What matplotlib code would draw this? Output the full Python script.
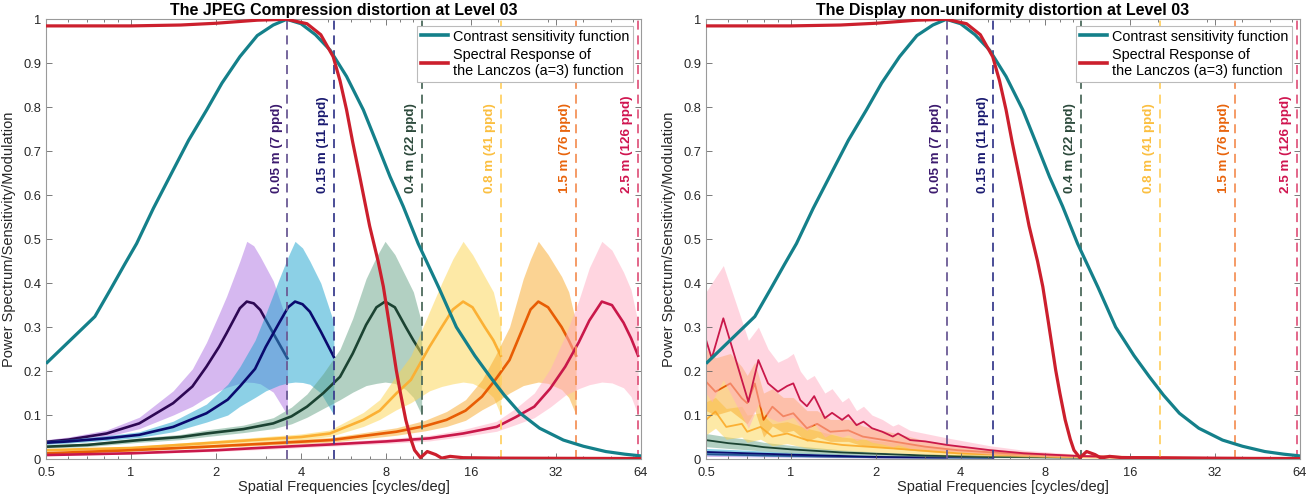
import matplotlib
matplotlib.use('Agg')
import matplotlib.pyplot as plt
from matplotlib.ticker import FixedLocator, FixedFormatter, NullFormatter
from matplotlib.lines import Line2D

plt.rcParams['font.family'] = ['Liberation Sans', 'DejaVu Sans']

# ---------------- data ----------------
titles = ["The JPEG Compression distortion at Level 03",
          "The Display non-uniformity distortion at Level 03"]
xlabel = "Spatial Frequencies [cycles/deg]"
ylabel = "Power Spectrum/Sensitivity/Modulation"
xticks = [0.5, 1, 2, 4, 8, 16, 32, 64]
xticklabels = ["0.5", "1", "2", "4", "8", "16", "32", "64"]
yticks = [0, 0.1, 0.2, 0.3, 0.4, 0.5, 0.6, 0.7, 0.8, 0.9, 1]
yticklabels = ["0", "0.1", "0.2", "0.3", "0.4", "0.5", "0.6", "0.7", "0.8", "0.9", "1"]

dist_labels = ["0.05 m (7 ppd)", "0.15 m (11 ppd)", "0.4 m (22 ppd)",
               "0.8 m (41 ppd)", "1.5 m (76 ppd)", "2.5 m (126 ppd)"]
cutoffs = [3.58, 5.23, 10.7, 20.4, 37.7, 62.5]

# Contrast sensitivity function
csf_f = [0.5, 0.745, 0.85, 0.95, 1.047, 1.2, 1.41, 1.6, 1.854, 2.1, 2.43, 2.8, 3.19, 3.56,
         4.0, 4.5, 5.07, 5.8, 6.65, 7.4, 8.27, 9.2, 10.4, 12.3, 14.2, 16.5, 18.7, 21.0,
         23.9, 28, 34, 40, 48, 56, 64]
csf_v = [0.217, 0.324, 0.388, 0.443, 0.49, 0.57, 0.657, 0.725, 0.794, 0.855, 0.915, 0.963,
         0.987, 1.0, 0.99, 0.965, 0.93, 0.87, 0.794, 0.72, 0.642, 0.575, 0.49, 0.39, 0.30,
         0.235, 0.187, 0.145, 0.104, 0.07, 0.043, 0.029, 0.017, 0.011, 0.007]

# Lanczos (a=3) spectral response
lz_f = [0.5, 1.0, 1.5, 2.0, 2.8, 3.56, 4.2, 4.7, 5.2, 5.5, 5.8, 6.1, 6.46, 7.0, 7.5, 7.83,
        8.2, 8.7, 9.0, 9.4, 9.8, 10.1, 10.6, 11.2, 12.0, 12.6, 13.5, 15, 20, 64]
lz_v = [0.985, 0.985, 0.987, 0.991, 0.998, 1.0, 0.99, 0.965, 0.915, 0.86, 0.794, 0.72,
        0.642, 0.53, 0.45, 0.392, 0.31, 0.202, 0.15, 0.089, 0.045, 0.02, 0.003, 0.017,
        0.01, 0.002, 0.006, 0.003, 0.002, 0.001]

# ---- JPEG panel (left) : frequency, mean, lower, upper ----
j_f1 = [0.5, 0.6, 0.82, 1.07, 1.41, 1.65, 1.85, 2.05, 2.18, 2.43, 2.57, 2.72, 2.87, 3.19, 3.58]
j_m1 = [0.039, 0.044, 0.058, 0.081, 0.127, 0.165, 0.21, 0.255, 0.286, 0.343, 0.358, 0.354, 0.339, 0.286, 0.229]
j_l1 = [0.035, 0.040, 0.051, 0.069, 0.100, 0.120, 0.140, 0.155, 0.163, 0.172, 0.175, 0.174, 0.171, 0.152, 0.100]
j_h1 = [0.044, 0.050, 0.066, 0.095, 0.155, 0.205, 0.265, 0.330, 0.370, 0.450, 0.495, 0.485, 0.460, 0.405, 0.310]

j_f2 = [0.5, 0.6, 0.82, 1.07, 1.41, 1.85, 2.2, 2.43, 2.75, 3.0, 3.35, 3.6, 3.81, 4.05, 4.3, 4.7, 5.23]
j_m2 = [0.037, 0.040, 0.047, 0.055, 0.073, 0.104, 0.135, 0.165, 0.205, 0.255, 0.310, 0.345, 0.358, 0.352, 0.335, 0.290, 0.232]
j_l2 = [0.033, 0.036, 0.042, 0.049, 0.062, 0.084, 0.100, 0.120, 0.140, 0.155, 0.168, 0.173, 0.175, 0.174, 0.170, 0.150, 0.100]
j_h2 = [0.042, 0.045, 0.053, 0.062, 0.086, 0.125, 0.170, 0.210, 0.270, 0.330, 0.410, 0.460, 0.495, 0.480, 0.450, 0.400, 0.310]

j_f3 = [0.5, 0.7, 1.07, 1.5, 1.85, 2.5, 3.19, 3.7, 4.2, 4.8, 5.5, 6.1, 6.8, 7.4, 7.94, 8.6, 9.4, 10.0, 10.7]
j_m3 = [0.028, 0.032, 0.043, 0.050, 0.058, 0.068, 0.081, 0.097, 0.119, 0.150, 0.187, 0.240, 0.305, 0.345, 0.358, 0.345, 0.300, 0.270, 0.240]
j_l3 = [0.025, 0.028, 0.038, 0.044, 0.051, 0.060, 0.069, 0.080, 0.095, 0.115, 0.135, 0.152, 0.167, 0.172, 0.175, 0.172, 0.158, 0.140, 0.100]
j_h3 = [0.032, 0.036, 0.048, 0.056, 0.066, 0.077, 0.094, 0.118, 0.148, 0.195, 0.250, 0.320, 0.410, 0.460, 0.495, 0.465, 0.415, 0.380, 0.310]

j_f4 = [0.5, 1.0, 1.85, 3.0, 4.0, 5.06, 6.65, 7.6, 8.7, 9.8, 11.4, 12.6, 13.8, 15.0, 16.2, 17.9, 19.2, 20.4]
j_m4 = [0.020, 0.025, 0.036, 0.045, 0.050, 0.058, 0.089, 0.110, 0.149, 0.180, 0.255, 0.300, 0.340, 0.358, 0.345, 0.300, 0.270, 0.235]
j_l4 = [0.018, 0.022, 0.032, 0.040, 0.044, 0.051, 0.074, 0.090, 0.112, 0.128, 0.155, 0.165, 0.171, 0.175, 0.172, 0.158, 0.140, 0.100]
j_h4 = [0.023, 0.028, 0.041, 0.051, 0.057, 0.066, 0.106, 0.135, 0.190, 0.235, 0.335, 0.400, 0.455, 0.495, 0.465, 0.415, 0.380, 0.310]

j_f5 = [0.5, 1.0, 1.85, 3.0, 5.1, 8.7, 11.0, 13.1, 15.3, 17.5, 19.5, 21.9, 24.5, 26.0, 27.7, 30.0, 33.5, 35.5, 37.7]
j_m5 = [0.013, 0.020, 0.028, 0.035, 0.043, 0.062, 0.075, 0.089, 0.110, 0.142, 0.180, 0.225, 0.300, 0.340, 0.358, 0.345, 0.300, 0.270, 0.235]
j_l5 = [0.011, 0.018, 0.025, 0.031, 0.038, 0.054, 0.064, 0.074, 0.088, 0.112, 0.128, 0.150, 0.167, 0.171, 0.175, 0.172, 0.158, 0.140, 0.100]
j_h5 = [0.015, 0.023, 0.032, 0.040, 0.049, 0.071, 0.088, 0.108, 0.135, 0.180, 0.235, 0.300, 0.410, 0.455, 0.495, 0.465, 0.415, 0.380, 0.310]

j_f6 = [0.5, 1.0, 2.0, 3.0, 5.06, 8.0, 11.4, 15.0, 19.7, 23.0, 26.8, 30.5, 34.5, 38.5, 42.0, 46.5, 50.5, 55.5, 59.0, 62.5]
j_m6 = [0.009, 0.013, 0.020, 0.026, 0.033, 0.040, 0.047, 0.058, 0.073, 0.095, 0.119, 0.160, 0.210, 0.265, 0.315, 0.358, 0.350, 0.310, 0.275, 0.235]
j_l6 = [0.008, 0.011, 0.017, 0.022, 0.029, 0.035, 0.041, 0.051, 0.063, 0.078, 0.094, 0.118, 0.145, 0.160, 0.169, 0.175, 0.173, 0.162, 0.142, 0.100]
j_h6 = [0.011, 0.015, 0.023, 0.030, 0.038, 0.046, 0.054, 0.067, 0.086, 0.115, 0.150, 0.205, 0.280, 0.360, 0.435, 0.495, 0.475, 0.425, 0.385, 0.310]

# ---- Display non-uniformity panel (right) ----
d_f1 = [0.5, 0.7, 1.0, 2.0, 3.58]
d_m1 = [0.011, 0.009, 0.007, 0.004, 0.003]
d_l1 = [0.006, 0.005, 0.004, 0.002, 0.001]
d_h1 = [0.016, 0.013, 0.010, 0.006, 0.004]

d_f2 = [0.5, 0.7, 1.0, 1.5, 2.0, 3.0, 5.23]
d_m2 = [0.016, 0.013, 0.010, 0.007, 0.005, 0.004, 0.003]
d_l2 = [0.009, 0.007, 0.005, 0.004, 0.003, 0.002, 0.001]
d_h2 = [0.024, 0.020, 0.015, 0.011, 0.008, 0.006, 0.004]

d_f3 = [0.5, 0.6, 0.7, 0.8, 1.0, 1.5, 2.0, 3.0, 5.0, 10.7]
d_m3 = [0.043, 0.036, 0.032, 0.027, 0.022, 0.015, 0.012, 0.008, 0.005, 0.003]
d_l3 = [0.028, 0.024, 0.021, 0.018, 0.014, 0.010, 0.008, 0.005, 0.003, 0.002]
d_h3 = [0.058, 0.050, 0.045, 0.038, 0.031, 0.021, 0.016, 0.011, 0.007, 0.004]

d_f4 = [0.5, 0.54, 0.59, 0.67, 0.70, 0.78, 0.86, 0.97, 1.14, 1.52, 2.3, 3.9, 8.8, 20.4]
d_m4 = [0.089, 0.108, 0.073, 0.080, 0.062, 0.073, 0.051, 0.058, 0.043, 0.032, 0.024, 0.013, 0.005, 0.002]
d_l4 = [0.055, 0.070, 0.045, 0.050, 0.038, 0.045, 0.030, 0.035, 0.025, 0.019, 0.014, 0.008, 0.003, 0.001]
d_h4 = [0.130, 0.140, 0.115, 0.120, 0.100, 0.105, 0.080, 0.085, 0.070, 0.050, 0.038, 0.022, 0.009, 0.003]

d_f5 = [0.5, 0.54, 0.61, 0.67, 0.70, 0.745, 0.8, 0.86, 0.94, 1.02, 1.14, 1.24, 1.38, 1.6, 1.8,
        2.3, 3.0, 3.9, 5.8, 8.8, 15, 25, 37.7]
d_m5 = [0.176, 0.153, 0.172, 0.138, 0.127, 0.172, 0.089, 0.119, 0.097, 0.104, 0.070, 0.080, 0.062,
        0.065, 0.051, 0.040, 0.028, 0.020, 0.013, 0.008, 0.005, 0.003, 0.002]
d_l5 = [0.110, 0.100, 0.110, 0.090, 0.080, 0.110, 0.050, 0.075, 0.060, 0.065, 0.040, 0.050, 0.040,
        0.040, 0.030, 0.024, 0.017, 0.012, 0.008, 0.005, 0.003, 0.002, 0.001]
d_h5 = [0.250, 0.230, 0.240, 0.210, 0.190, 0.220, 0.150, 0.160, 0.140, 0.140, 0.110, 0.110, 0.090,
        0.090, 0.075, 0.060, 0.042, 0.030, 0.020, 0.012, 0.007, 0.004, 0.003]

d_f6 = [0.5, 0.524, 0.576, 0.707, 0.767, 0.83, 0.90, 0.97, 1.02, 1.08, 1.14, 1.21, 1.32, 1.40,
        1.52, 1.60, 1.71, 1.81, 1.94, 2.11, 2.3, 2.4, 2.65, 3.0, 3.58, 5.1, 6.7, 10.3, 16, 30, 62.5]
d_m6 = [0.271, 0.229, 0.320, 0.130, 0.225, 0.172, 0.153, 0.166, 0.172, 0.134, 0.120, 0.143, 0.093,
        0.105, 0.089, 0.100, 0.077, 0.085, 0.070, 0.062, 0.051, 0.058, 0.043, 0.040, 0.032, 0.020,
        0.013, 0.007, 0.004, 0.003, 0.002]
d_l6 = [0.150, 0.130, 0.180, 0.070, 0.125, 0.095, 0.085, 0.090, 0.095, 0.075, 0.065, 0.080, 0.050,
        0.058, 0.050, 0.055, 0.042, 0.047, 0.038, 0.034, 0.028, 0.032, 0.024, 0.022, 0.018, 0.011,
        0.007, 0.004, 0.002, 0.002, 0.001]
d_h6 = [0.380, 0.400, 0.440, 0.270, 0.300, 0.250, 0.220, 0.230, 0.240, 0.200, 0.180, 0.190, 0.150,
        0.160, 0.130, 0.140, 0.110, 0.120, 0.100, 0.090, 0.075, 0.080, 0.065, 0.058, 0.048, 0.030,
        0.020, 0.011, 0.006, 0.004, 0.003]

jpeg_series = [(j_f1, j_m1, j_l1, j_h1), (j_f2, j_m2, j_l2, j_h2), (j_f3, j_m3, j_l3, j_h3),
               (j_f4, j_m4, j_l4, j_h4), (j_f5, j_m5, j_l5, j_h5), (j_f6, j_m6, j_l6, j_h6)]
disp_series = [(d_f1, d_m1, d_l1, d_h1), (d_f2, d_m2, d_l2, d_h2), (d_f3, d_m3, d_l3, d_h3),
               (d_f4, d_m4, d_l4, d_h4), (d_f5, d_m5, d_l5, d_h5), (d_f6, d_m6, d_l6, d_h6)]

# ---------------- styles ----------------
fill_colors = ['#ae72e2', '#1aa3cf', '#66a386', '#fdd44f', '#f9a828', '#ffadc2']
line_colors = ['#2e0854', '#0a0a6e', '#1b4332', '#fbb034', '#e85d04', '#c9184a']
dash_colors = ['#6b5b95', '#3b3f8f', '#4d6b5d', '#ffd166', '#f4935a', '#e05a80']
label_colors = ['#3c1a6e', '#1a1a70', '#2d4a3c', '#fbbf40', '#e8640c', '#d0144f']
csf_color = '#14808a'
lz_color = '#cc1f2d'

W, H = 1315, 496
fig = plt.figure(figsize=(W / 100, H / 100), dpi=100)
ax_left = fig.add_axes([46 / W, 1 - 459 / H, 595 / W, 439.7 / H])
ax_right = fig.add_axes([706 / W, 1 - 459 / H, 594 / W, 439.7 / H])


def draw(ax, series, title, lw_mean):
    ax.set_xscale('log', base=2)
    for i, (f, m, lo, hi) in enumerate(series):
        ax.fill_between(f, lo, hi, color=fill_colors[i], alpha=0.5, lw=0, zorder=1 + i * 0.1)
        ax.plot(f, m, color=line_colors[i], lw=lw_mean, zorder=1.05 + i * 0.1)
    for i, c in enumerate(cutoffs):
        ax.axvline(c, color=dash_colors[i], lw=1.3, ls=(0, (5, 3.2)), zorder=2)
        ax.annotate(dist_labels[i], xy=(c, 0.605), xycoords='data', xytext=(-3.5, 0),
                    textcoords='offset points', rotation=90, ha='right', va='bottom',
                    fontsize=9.6, fontweight='bold', color=label_colors[i], zorder=3)
    ax.plot(csf_f, csf_v, color=csf_color, lw=2.3, zorder=4, solid_capstyle='butt',
            solid_joinstyle='round')
    ax.plot(lz_f, lz_v, color=lz_color, lw=2.3, zorder=5, solid_capstyle='butt',
            solid_joinstyle='round')

    ax.set_xlim(0.5, 64)
    ax.set_ylim(0, 1)
    ax.xaxis.set_major_locator(FixedLocator(xticks))
    ax.xaxis.set_major_formatter(FixedFormatter(xticklabels))
    ax.xaxis.set_minor_locator(FixedLocator([0.6, 0.7, 0.8, 0.9, 3, 5, 6, 7, 9, 10,
                                             20, 30, 40, 50, 60]))
    ax.xaxis.set_minor_formatter(NullFormatter())
    ax.yaxis.set_major_locator(FixedLocator(yticks))
    ax.yaxis.set_major_formatter(FixedFormatter(yticklabels))
    ax.tick_params(which='both', direction='in', top=True, right=True,
                   labelsize=9.3, colors='#262626')
    ax.tick_params(axis='x', pad=5.5)
    ax.tick_params(axis='y', pad=3.5)
    ax.tick_params(which='major', length=4.5, width=0.6, color='#666666')
    ax.tick_params(which='minor', length=2.5, width=0.6, color='#666666')
    for s in ax.spines.values():
        s.set_color('#9a9a9a')
        s.set_linewidth(0.8)
    ax.set_title(title, fontsize=11.5, fontweight='bold', pad=3)
    ax.set_xlabel(xlabel, fontsize=10.5, labelpad=1, color='#262626')
    ax.set_ylabel(ylabel, fontsize=10.5, labelpad=5, color='#262626')

    handles = [Line2D([], [], color=csf_color, lw=2.6), Line2D([], [], color=lz_color, lw=2.6)]
    leg = ax.legend(handles, ["Contrast sensitivity function",
                              "Spectral Response of\nthe Lanczos (a=3) function"],
                    loc='upper right', bbox_to_anchor=(0.9866, 0.985), fontsize=10.4,
                    frameon=True, fancybox=False, edgecolor='#bbbbbb', framealpha=1,
                    handlelength=1.9, borderpad=0.25, labelspacing=0.3, handletextpad=0.35,
                    borderaxespad=0)
    leg.get_frame().set_linewidth(0.8)
    leg.set_zorder(10)


draw(ax_left, jpeg_series, titles[0], 1.9)
draw(ax_right, disp_series, titles[1], 1.3)

fig.savefig('out.png', dpi=100)
